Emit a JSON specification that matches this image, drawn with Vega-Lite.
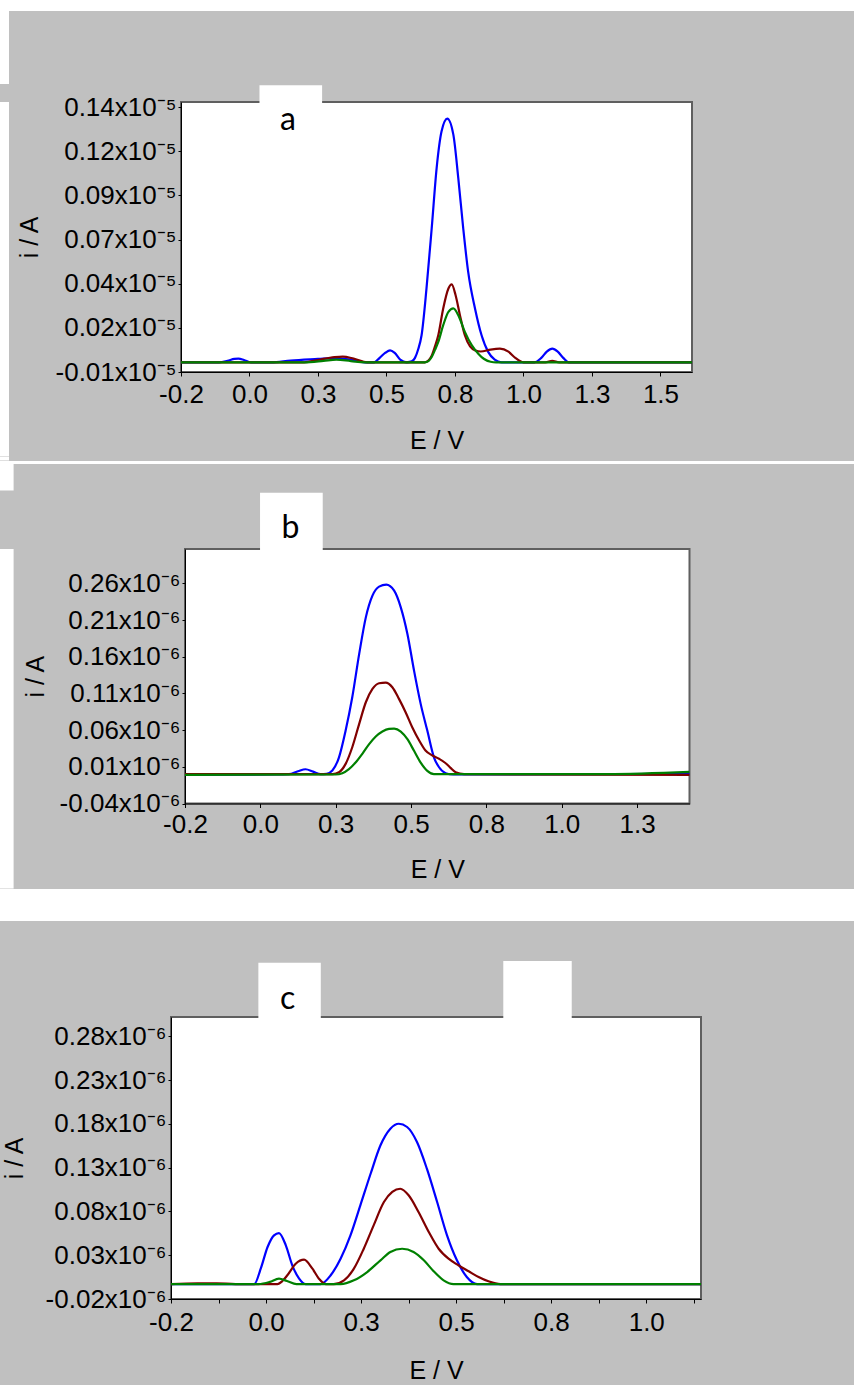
{
  "$schema": "https://vega.github.io/schema/vega-lite/v6.json",
  "background": "#c0c0c0",
  "padding": 0,
  "spacing": 0,
  "config": {
    "axis": {"labelFont": "Liberation Sans", "titleFont": "Liberation Sans", "labelFontSize": 26, "titleFontSize": 25, "titleFontWeight": "normal", "labelColor": "black", "titleColor": "black", "grid": false, "domainColor": "black", "tickColor": "black", "labelFlush": false, "labelOverlap": false, "labelBound": false},
    "concat": {"spacing": 0}
  },
  "datasets": {
    "a": [
      {"s":"A","E":-0.2,"i":-0.0045},{"s":"A","E":-0.06,"i":-0.0045},{"s":"A","E":-0.03,"i":-0.0036},{"s":"A","E":-0.005,"i":-0.0026},{"s":"A","E":0.01,"i":-0.0024},{"s":"A","E":0.03,"i":-0.0032},{"s":"A","E":0.055,"i":-0.0045},{"s":"A","E":0.13,"i":-0.0045},{"s":"A","E":0.2,"i":-0.0035},{"s":"A","E":0.3,"i":-0.0026},{"s":"A","E":0.36,"i":-0.0021},{"s":"A","E":0.42,"i":-0.003},{"s":"A","E":0.47,"i":-0.0045},{"s":"A","E":0.505,"i":-0.0045},{"s":"A","E":0.525,"i":-0.002},{"s":"A","E":0.545,"i":0.0008},{"s":"A","E":0.563,"i":0.0023},{"s":"A","E":0.58,"i":0.0008},{"s":"A","E":0.6,"i":-0.003},{"s":"A","E":0.624,"i":-0.0045},{"s":"A","E":0.642,"i":-0.004},{"s":"A","E":0.654,"i":-0.002},{"s":"A","E":0.666,"i":0.003},{"s":"A","E":0.678,"i":0.0108},{"s":"A","E":0.696,"i":0.0373},{"s":"A","E":0.715,"i":0.0714},{"s":"A","E":0.733,"i":0.1055},{"s":"A","E":0.751,"i":0.1263},{"s":"A","E":0.772,"i":0.1335},{"s":"A","E":0.794,"i":0.1244},{"s":"A","E":0.812,"i":0.0998},{"s":"A","E":0.83,"i":0.0714},{"s":"A","E":0.848,"i":0.0468},{"s":"A","E":0.873,"i":0.026},{"s":"A","E":0.897,"i":0.0108},{"s":"A","E":0.921,"i":0.0014},{"s":"A","E":0.945,"i":-0.003},{"s":"A","E":0.97,"i":-0.0045},{"s":"A","E":1.09,"i":-0.0045},{"s":"A","E":1.115,"i":-0.002},{"s":"A","E":1.135,"i":0.0015},{"s":"A","E":1.155,"i":0.0032},{"s":"A","E":1.175,"i":0.0015},{"s":"A","E":1.195,"i":-0.002},{"s":"A","E":1.215,"i":-0.0045},{"s":"A","E":1.665,"i":-0.0045},
      {"s":"B","E":-0.2,"i":-0.0045},{"s":"B","E":0.25,"i":-0.0045},{"s":"B","E":0.3,"i":-0.0032},{"s":"B","E":0.36,"i":-0.0016},{"s":"B","E":0.39,"i":-0.0013},{"s":"B","E":0.43,"i":-0.0024},{"s":"B","E":0.48,"i":-0.0045},{"s":"B","E":0.69,"i":-0.0045},{"s":"B","E":0.703,"i":-0.0035},{"s":"B","E":0.715,"i":-0.0008},{"s":"B","E":0.727,"i":0.0045},{"s":"B","E":0.739,"i":0.0108},{"s":"B","E":0.757,"i":0.026},{"s":"B","E":0.776,"i":0.0373},{"s":"B","E":0.788,"i":0.0396},{"s":"B","E":0.802,"i":0.0336},{"s":"B","E":0.818,"i":0.0222},{"s":"B","E":0.836,"i":0.0108},{"s":"B","E":0.855,"i":0.0045},{"s":"B","E":0.875,"i":0.0022},{"s":"B","E":0.894,"i":0.0016},{"s":"B","E":0.93,"i":0.0027},{"s":"B","E":0.964,"i":0.0032},{"s":"B","E":0.995,"i":0.0015},{"s":"B","E":1.02,"i":-0.002},{"s":"B","E":1.05,"i":-0.0045},{"s":"B","E":1.13,"i":-0.0045},{"s":"B","E":1.155,"i":-0.0037},{"s":"B","E":1.18,"i":-0.0045},{"s":"B","E":1.665,"i":-0.0045},
      {"s":"C","E":-0.2,"i":-0.0045},{"s":"C","E":0.25,"i":-0.0045},{"s":"C","E":0.32,"i":-0.0037},{"s":"C","E":0.367,"i":-0.003},{"s":"C","E":0.42,"i":-0.0038},{"s":"C","E":0.47,"i":-0.0045},{"s":"C","E":0.69,"i":-0.0045},{"s":"C","E":0.703,"i":-0.0038},{"s":"C","E":0.715,"i":-0.0015},{"s":"C","E":0.727,"i":0.0025},{"s":"C","E":0.739,"i":0.007},{"s":"C","E":0.757,"i":0.0165},{"s":"C","E":0.776,"i":0.0241},{"s":"C","E":0.794,"i":0.026},{"s":"C","E":0.812,"i":0.0222},{"s":"C","E":0.836,"i":0.0127},{"s":"C","E":0.861,"i":0.0052},{"s":"C","E":0.885,"i":0.0004},{"s":"C","E":0.905,"i":-0.0025},{"s":"C","E":0.93,"i":-0.0042},{"s":"C","E":0.95,"i":-0.0045},{"s":"C","E":1.665,"i":-0.0045}
    ],
    "b": [
      {"s":"A","E":-0.2,"i":-0.001},{"s":"A","E":0.1,"i":-0.0005},{"s":"A","E":0.145,"i":0.0},{"s":"A","E":0.175,"i":0.004},{"s":"A","E":0.2,"i":0.0067},{"s":"A","E":0.225,"i":0.0035},{"s":"A","E":0.25,"i":0.0},{"s":"A","E":0.27,"i":0.0005},{"s":"A","E":0.289,"i":0.005},{"s":"A","E":0.311,"i":0.023},{"s":"A","E":0.333,"i":0.0594},{"s":"A","E":0.355,"i":0.1048},{"s":"A","E":0.378,"i":0.1639},{"s":"A","E":0.4,"i":0.2137},{"s":"A","E":0.422,"i":0.2433},{"s":"A","E":0.444,"i":0.2556},{"s":"A","E":0.468,"i":0.2583},{"s":"A","E":0.494,"i":0.2501},{"s":"A","E":0.516,"i":0.2274},{"s":"A","E":0.538,"i":0.1911},{"s":"A","E":0.56,"i":0.1411},{"s":"A","E":0.582,"i":0.0958},{"s":"A","E":0.604,"i":0.0594},{"s":"A","E":0.626,"i":0.023},{"s":"A","E":0.643,"i":0.0094},{"s":"A","E":0.665,"i":0.0013},{"s":"A","E":0.69,"i":-0.0005},{"s":"A","E":1.475,"i":0.0005},
      {"s":"B","E":-0.2,"i":0.0},{"s":"B","E":0.29,"i":0.0},{"s":"B","E":0.311,"i":0.0026},{"s":"B","E":0.333,"i":0.014},{"s":"B","E":0.355,"i":0.0367},{"s":"B","E":0.378,"i":0.0686},{"s":"B","E":0.4,"i":0.098},{"s":"B","E":0.422,"i":0.1162},{"s":"B","E":0.444,"i":0.1239},{"s":"B","E":0.466,"i":0.1248},{"s":"B","E":0.488,"i":0.1184},{"s":"B","E":0.51,"i":0.1026},{"s":"B","E":0.532,"i":0.0844},{"s":"B","E":0.554,"i":0.0639},{"s":"B","E":0.577,"i":0.0458},{"s":"B","E":0.598,"i":0.0322},{"s":"B","E":0.621,"i":0.0254},{"s":"B","E":0.643,"i":0.0209},{"s":"B","E":0.665,"i":0.0149},{"s":"B","E":0.681,"i":0.0086},{"s":"B","E":0.698,"i":0.0026},{"s":"B","E":0.726,"i":0.0},{"s":"B","E":1.475,"i":-0.001},
      {"s":"C","E":-0.2,"i":-0.001},{"s":"C","E":0.3,"i":-0.0005},{"s":"C","E":0.322,"i":0.0013},{"s":"C","E":0.344,"i":0.0069},{"s":"C","E":0.366,"i":0.0158},{"s":"C","E":0.389,"i":0.0281},{"s":"C","E":0.411,"i":0.0409},{"s":"C","E":0.433,"i":0.0513},{"s":"C","E":0.455,"i":0.0581},{"s":"C","E":0.477,"i":0.0617},{"s":"C","E":0.494,"i":0.0621},{"s":"C","E":0.516,"i":0.0581},{"s":"C","E":0.538,"i":0.0477},{"s":"C","E":0.56,"i":0.0318},{"s":"C","E":0.582,"i":0.0158},{"s":"C","E":0.604,"i":0.0045},{"s":"C","E":0.626,"i":0.0},{"s":"C","E":1.2,"i":0.0},{"s":"C","E":1.475,"i":0.003}
    ],
    "c": [
      {"s":"A","E":-0.2,"i":-0.003},{"s":"A","E":0.019,"i":-0.003},{"s":"A","E":0.036,"i":0.0146},{"s":"A","E":0.054,"i":0.0394},{"s":"A","E":0.071,"i":0.0527},{"s":"A","E":0.084,"i":0.0553},{"s":"A","E":0.102,"i":0.0413},{"s":"A","E":0.119,"i":0.0185},{"s":"A","E":0.137,"i":0.0032},{"s":"A","E":0.154,"i":-0.003},{"s":"A","E":0.193,"i":-0.003},{"s":"A","E":0.22,"i":0.0071},{"s":"A","E":0.246,"i":0.026},{"s":"A","E":0.272,"i":0.0527},{"s":"A","E":0.298,"i":0.087},{"s":"A","E":0.325,"i":0.123},{"s":"A","E":0.351,"i":0.1555},{"s":"A","E":0.377,"i":0.1744},{"s":"A","E":0.399,"i":0.1801},{"s":"A","E":0.421,"i":0.1764},{"s":"A","E":0.447,"i":0.1592},{"s":"A","E":0.473,"i":0.1288},{"s":"A","E":0.5,"i":0.0907},{"s":"A","E":0.526,"i":0.0527},{"s":"A","E":0.552,"i":0.0242},{"s":"A","E":0.578,"i":0.0051},{"s":"A","E":0.605,"i":-0.003},{"s":"A","E":1.194,"i":-0.003},
      {"s":"B","E":-0.2,"i":-0.003},{"s":"B","E":-0.13,"i":-0.002},{"s":"B","E":-0.08,"i":-0.002},{"s":"B","E":-0.03,"i":-0.003},{"s":"B","E":0.08,"i":-0.003},{"s":"B","E":0.093,"i":0.0005},{"s":"B","E":0.106,"i":0.0071},{"s":"B","E":0.128,"i":0.0203},{"s":"B","E":0.15,"i":0.0249},{"s":"B","E":0.172,"i":0.0146},{"s":"B","E":0.189,"i":0.0032},{"s":"B","E":0.207,"i":-0.003},{"s":"B","E":0.228,"i":-0.003},{"s":"B","E":0.255,"i":0.0013},{"s":"B","E":0.281,"i":0.0146},{"s":"B","E":0.307,"i":0.0374},{"s":"B","E":0.333,"i":0.0641},{"s":"B","E":0.36,"i":0.0907},{"s":"B","E":0.382,"i":0.1022},{"s":"B","E":0.403,"i":0.1059},{"s":"B","E":0.425,"i":0.0984},{"s":"B","E":0.451,"i":0.0793},{"s":"B","E":0.478,"i":0.0565},{"s":"B","E":0.504,"i":0.0374},{"s":"B","E":0.53,"i":0.026},{"s":"B","E":0.556,"i":0.0185},{"s":"B","E":0.583,"i":0.0116},{"s":"B","E":0.609,"i":0.0051},{"s":"B","E":0.635,"i":0.0002},{"s":"B","E":0.666,"i":-0.003},{"s":"B","E":1.194,"i":-0.003},
      {"s":"C","E":-0.2,"i":-0.003},{"s":"C","E":0.03,"i":-0.003},{"s":"C","E":0.06,"i":-0.0005},{"s":"C","E":0.084,"i":0.0032},{"s":"C","E":0.105,"i":0.0005},{"s":"C","E":0.13,"i":-0.003},{"s":"C","E":0.246,"i":-0.003},{"s":"C","E":0.281,"i":0.0013},{"s":"C","E":0.316,"i":0.0108},{"s":"C","E":0.351,"i":0.0242},{"s":"C","E":0.377,"i":0.0337},{"s":"C","E":0.408,"i":0.0374},{"s":"C","E":0.438,"i":0.0337},{"s":"C","E":0.465,"i":0.0242},{"s":"C","E":0.491,"i":0.0116},{"s":"C","E":0.517,"i":0.0013},{"s":"C","E":0.543,"i":-0.003},{"s":"C","E":1.194,"i":-0.003}
    ]
  },
  "resolve": {"scale": {"x": "independent", "y": "independent"}, "axis": {"x": "independent", "y": "independent"}},
  "vconcat": [
    {"width": 854, "height": 11, "data": {"values": []}, "mark": "point", "encoding": {}, "view": {"fill": "white", "stroke": null}},
    {"width": 9, "height": 73, "data": {"values": []}, "mark": "point", "encoding": {}, "view": {"fill": "white", "stroke": null}},
    {
      "spacing": 0,
      "resolve": {"scale": {"x": "independent", "y": "independent"}, "axis": {"x": "independent", "y": "independent"}},
      "hconcat": [
        {"width": 9, "height": 354.5, "data": {"values": []}, "mark": "point", "encoding": {}, "view": {"fill": "white", "stroke": null}},
        {"width": 6.4, "height": 1, "data": {"values": []}, "mark": "point", "encoding": {}, "view": {"stroke": null}},
        {
          "width": 511, "height": 270,
          "view": {"fill": "white", "stroke": "#5f5f5f", "strokeWidth": 2},
          "layer": [
            {
              "data": {"values": [{"x1": 0.0864, "x2": 0.315, "y1": 0.1418, "y2": 0.1524}]},
              "mark": {"type": "rect", "color": "white", "clip": false},
              "encoding": {
                "x": {"field": "x1", "type": "quantitative", "title": "E / V", "scale": {"domain": [-0.2, 1.665], "nice": false, "zero": false}},
                "x2": {"field": "x2"},
                "y": {"field": "y1", "type": "quantitative", "title": "i / A", "scale": {"domain": [-0.01, 0.1429], "nice": false, "zero": false}},
                "y2": {"field": "y2"}
              }
            },
            {
              "data": {"values": [{"x": 0.19, "y": 0.1326, "t": "a"}]},
              "mark": {"type": "text", "font": "Lato", "fontSize": 32, "color": "black", "clip": false, "align": "center", "baseline": "middle"},
              "encoding": {
                "x": {"field": "x", "type": "quantitative", "title": "E / V", "scale": {"domain": [-0.2, 1.665], "nice": false, "zero": false}},
                "y": {"field": "y", "type": "quantitative", "title": "i / A", "scale": {"domain": [-0.01, 0.1429], "nice": false, "zero": false}},
                "text": {"field": "t"}
              }
            },
            {
              "data": {"name": "a"},
              "mark": {"type": "line", "interpolate": "monotone", "strokeWidth": 2.2, "clip": true},
              "encoding": {
                "x": {"field": "E", "type": "quantitative", "title": "E / V", "scale": {"domain": [-0.2, 1.665], "nice": false, "zero": false},
                  "axis": {"title": "E / V", "values": [-0.2,-0.075,0.05,0.175,0.3,0.425,0.55,0.675,0.8,0.925,1.05,1.175,1.3,1.425,1.55], "labelExpr": "abs(round((datum.value + 0.2) / 0.125)) % 2 == 1 ? '' : replace(format(datum.value - 0.001, '.1f'), '−', '-')", "tickSize": 4, "labelPadding": 5, "titlePadding": 21}},
                "y": {"field": "i", "type": "quantitative", "title": "i / A", "scale": {"domain": [-0.01, 0.1429], "nice": false, "zero": false},
                  "axis": {"title": "i / A", "values": [-0.01,0.0025,0.015,0.0275,0.04,0.0525,0.065,0.0775,0.09,0.1025,0.115,0.1275,0.14], "labelExpr": "abs(round((datum.value + 0.01) / 0.0125)) % 2 == 1 ? '' : replace(format(datum.value + 0.0001, '.2f'), '−', '-') + 'x10⁻⁵'", "tickSize": 3, "labelPadding": 2, "minExtent": 130, "maxExtent": 130, "titlePadding": 8.3}},
                "color": {"field": "s", "type": "nominal", "scale": {"domain": ["A","B","C"], "range": ["#0000ff","#800000","#008000"]}, "legend": null}
              }
            }
          ]
        }
      ]
    },
    {"width": 9, "height": 3.5, "data": {"values": []}, "mark": "point", "encoding": {}, "view": {"fill": "white", "stroke": null}},
    {"width": 854, "height": 3, "data": {"values": []}, "mark": "point", "encoding": {}, "view": {"fill": "white", "stroke": null}},
    {"width": 13.6, "height": 26.5, "data": {"values": []}, "mark": "point", "encoding": {}, "view": {"fill": "white", "stroke": null}},
    {
      "spacing": 0,
      "resolve": {"scale": {"x": "independent", "y": "independent"}, "axis": {"x": "independent", "y": "independent"}},
      "hconcat": [
        {"width": 13.6, "height": 336, "data": {"values": []}, "mark": "point", "encoding": {}, "view": {"fill": "white", "stroke": null}},
        {"width": 7.4, "height": 1, "data": {"values": []}, "mark": "point", "encoding": {}, "view": {"stroke": null}},
        {
          "width": 504.5, "height": 254.5,
          "view": {"fill": "white", "stroke": "#5f5f5f", "strokeWidth": 2},
          "layer": [
            {
              "data": {"values": [{"x1": 0.049, "x2": 0.257, "y1": 0.3042, "y2": 0.3836}]},
              "mark": {"type": "rect", "color": "white", "clip": false},
              "encoding": {
                "x": {"field": "x1", "type": "quantitative", "title": "E / V", "scale": {"domain": [-0.2, 1.474], "nice": false, "zero": false}},
                "x2": {"field": "x2"},
                "y": {"field": "y1", "type": "quantitative", "title": "i / A", "scale": {"domain": [-0.04, 0.3069], "nice": false, "zero": false}},
                "y2": {"field": "y2"}
              }
            },
            {
              "data": {"values": [{"x": 0.15, "y": 0.3355, "t": "b"}]},
              "mark": {"type": "text", "font": "Lato", "fontSize": 32, "color": "black", "clip": false, "align": "center", "baseline": "middle"},
              "encoding": {
                "x": {"field": "x", "type": "quantitative", "title": "E / V", "scale": {"domain": [-0.2, 1.474], "nice": false, "zero": false}},
                "y": {"field": "y", "type": "quantitative", "title": "i / A", "scale": {"domain": [-0.04, 0.3069], "nice": false, "zero": false}},
                "text": {"field": "t"}
              }
            },
            {
              "data": {"name": "b"},
              "mark": {"type": "line", "interpolate": "monotone", "strokeWidth": 2.2, "clip": true},
              "encoding": {
                "x": {"field": "E", "type": "quantitative", "title": "E / V", "scale": {"domain": [-0.2, 1.474], "nice": false, "zero": false},
                  "axis": {"title": "E / V", "values": [-0.2,-0.075,0.05,0.175,0.3,0.425,0.55,0.675,0.8,0.925,1.05,1.175,1.3,1.425], "labelExpr": "abs(round((datum.value + 0.2) / 0.125)) % 2 == 1 ? '' : replace(format(datum.value - 0.001, '.1f'), '−', '-')", "tickSize": 4, "labelPadding": 4, "titlePadding": 20}},
                "y": {"field": "i", "type": "quantitative", "title": "i / A", "scale": {"domain": [-0.04, 0.3069], "nice": false, "zero": false},
                  "axis": {"title": "i / A", "values": [-0.04,-0.015,0.01,0.035,0.06,0.085,0.11,0.135,0.16,0.185,0.21,0.235,0.26,0.285], "labelExpr": "abs(round((datum.value + 0.04) / 0.025)) % 2 == 1 ? '' : replace(format(datum.value + 0.0001, '.2f'), '−', '-') + 'x10⁻⁶'", "tickSize": 3, "labelPadding": 2, "minExtent": 130, "maxExtent": 130, "titlePadding": 6.25}},
                "color": {"field": "s", "type": "nominal", "scale": {"domain": ["A","B","C"], "range": ["#0000ff","#800000","#008000"]}, "legend": null}
              }
            }
          ]
        }
      ]
    },
    {"width": 13.6, "height": 3.55, "data": {"values": []}, "mark": "point", "encoding": {}, "view": {"fill": "white", "stroke": null}},
    {"width": 854, "height": 32, "data": {"values": []}, "mark": "point", "encoding": {}, "view": {"fill": "white", "stroke": null}},
    {"width": 854, "height": 39, "data": {"values": []}, "mark": "point", "encoding": {}, "view": {"stroke": null}},
    {
      "spacing": 0,
      "resolve": {"scale": {"x": "independent", "y": "independent"}, "axis": {"x": "independent", "y": "independent"}},
      "hconcat": [
        {"width": 1, "height": 1, "data": {"values": []}, "mark": "point", "encoding": {}, "view": {"stroke": null}},
        {
          "width": 530, "height": 282,
          "view": {"fill": "white", "stroke": "#5f5f5f", "strokeWidth": 2},
          "layer": [
            {
              "data": {"values": [{"x1": 0.0298, "x2": 0.194, "y1": 0.2996, "y2": 0.364}, {"x1": 0.674, "x2": 0.854, "y1": 0.2996, "y2": 0.3659}]},
              "mark": {"type": "rect", "color": "white", "clip": false},
              "encoding": {
                "x": {"field": "x1", "type": "quantitative", "title": "E / V", "scale": {"domain": [-0.2, 1.194], "nice": false, "zero": false}},
                "x2": {"field": "x2"},
                "y": {"field": "y1", "type": "quantitative", "title": "i / A", "scale": {"domain": [-0.02, 0.302], "nice": false, "zero": false}},
                "y2": {"field": "y2"}
              }
            },
            {
              "data": {"values": [{"x": 0.107, "y": 0.3225, "t": "c"}]},
              "mark": {"type": "text", "font": "Lato", "fontSize": 32, "color": "black", "clip": false, "align": "center", "baseline": "middle"},
              "encoding": {
                "x": {"field": "x", "type": "quantitative", "title": "E / V", "scale": {"domain": [-0.2, 1.194], "nice": false, "zero": false}},
                "y": {"field": "y", "type": "quantitative", "title": "i / A", "scale": {"domain": [-0.02, 0.302], "nice": false, "zero": false}},
                "text": {"field": "t"}
              }
            },
            {
              "data": {"name": "c"},
              "mark": {"type": "line", "interpolate": "monotone", "strokeWidth": 2.2, "clip": true},
              "encoding": {
                "x": {"field": "E", "type": "quantitative", "title": "E / V", "scale": {"domain": [-0.2, 1.194], "nice": false, "zero": false},
                  "axis": {"title": "E / V", "values": [-0.2,-0.075,0.05,0.175,0.3,0.425,0.55,0.675,0.8,0.925,1.05,1.175], "labelExpr": "abs(round((datum.value + 0.2) / 0.125)) % 2 == 1 ? '' : replace(format(datum.value - 0.001, '.1f'), '−', '-')", "tickSize": 4, "labelPadding": 6, "titlePadding": 23}},
                "y": {"field": "i", "type": "quantitative", "title": "i / A", "scale": {"domain": [-0.02, 0.302], "nice": false, "zero": false},
                  "axis": {"title": "i / A", "values": [-0.02,0.005,0.03,0.055,0.08,0.105,0.13,0.155,0.18,0.205,0.23,0.255,0.28], "labelExpr": "abs(round((datum.value + 0.02) / 0.025)) % 2 == 1 ? '' : replace(format(datum.value + 0.0001, '.2f'), '−', '-') + 'x10⁻⁶'", "tickSize": 3, "labelPadding": 2, "minExtent": 130, "maxExtent": 130, "titlePadding": 13.75}},
                "color": {"field": "s", "type": "nominal", "scale": {"domain": ["A","B","C"], "range": ["#0000ff","#800000","#008000"]}, "legend": null}
              }
            }
          ]
        }
      ]
    },
    {"width": 854, "height": 3, "data": {"values": []}, "mark": "point", "encoding": {}, "view": {"stroke": null}}
  ]
}
